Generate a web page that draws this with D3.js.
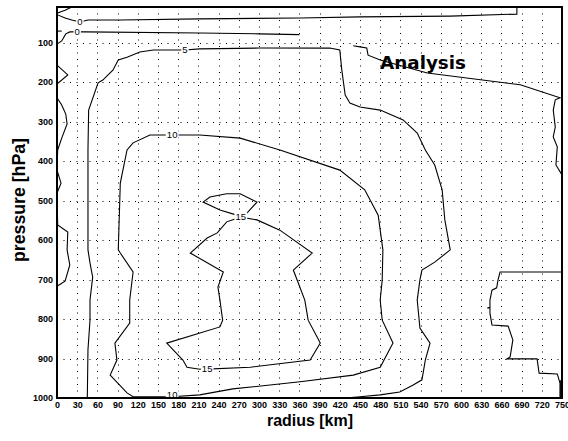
<!DOCTYPE html>
<html>
<head>
<meta charset="utf-8">
<script src="https://cdn.jsdelivr.net/npm/d3@7"></script>
<style>
  html, body { margin: 0; padding: 0; background: #fff; }
  svg { display: block; }
</style>
</head>
<body>
<svg id="chart" width="568" height="441"></svg>
<script>
// ---------- data (radius km, pressure hPa) ----------
const radiusTicks = [0,30,60,90,120,150,180,210,240,270,300,330,360,390,420,450,480,510,540,570,600,630,660,690,720,750];
const pressureTicks = [100,200,300,400,500,600,700,800,900,1000];
const radiusDomain = [0, 750];
const pressureDomain = [10, 1000];

// contour 0 (upper, with top-left corner)
const c0Upper = [[22,10],[12,18],[1,25],[0,28],[1,30],[12,38],[22,43],[34,48],[46,43],[94,43],[212,40],[361,38],[450,35],[584,33],[683,28],[683,10]];
// contour 0 (lower)
const c0Lower = [[0,104],[7,96],[13,78],[19,73],[30,73],[42,73],[212,76],[300,78],[360,80]];
const c0Dash = [[0,71],[7,71]];
// contour near r=0 (left border wiggle)
const c0Left = [[0,157],[16,182],[0,205],[0,240],[7,258],[13,281],[15,306],[7,342],[1,372],[0,423],[6,456],[0,481],[1,562],[16,580],[15,625],[19,663],[12,704],[0,717]];
// contour 5 (outer)
const c5Outer = [[45,1000],[46,878],[49,803],[49,752],[53,694],[49,658],[46,625],[46,456],[46,372],[47,271],[61,202],[68,195],[83,170],[91,144],[104,137],[123,124],[143,119],[190,119],[212,116],[301,114],[405,114],[420,119],[423,170],[428,233],[435,253],[450,263],[480,271],[514,296],[535,329],[547,372],[561,410],[572,473],[576,549],[584,625],[561,656],[542,676],[539,701],[535,752],[539,823],[554,861],[547,904],[542,954],[529,967],[509,985],[480,992],[450,997],[428,1000]];
// contour 5 (upper right branch)
const c5Right = [[440,108],[450,111],[460,114],[462,132],[480,144],[550,177],[688,207],[747,240],[740,245],[737,271],[740,314],[737,339],[743,364],[741,410],[750,435]];
// contour 10
const c10 = [[171,334],[212,334],[272,342],[331,372],[420,423],[457,473],[477,537],[484,625],[483,701],[480,752],[483,803],[499,861],[480,922],[440,942],[361,959],[306,969],[261,977],[212,992],[171,997],[113,997],[104,987],[79,942],[89,904],[86,861],[108,810],[108,752],[113,681],[94,633],[91,625],[94,456],[104,372],[113,354],[138,334],[171,334]];
// contour 15
const c15 = [[273,542],[282,532],[297,504],[272,483],[252,483],[227,491],[217,504],[242,524],[267,537],[273,542],[252,554],[238,582],[223,595],[198,633],[247,681],[239,719],[242,752],[246,803],[242,820],[163,861],[187,904],[193,922],[212,927],[223,927],[287,922],[376,904],[391,861],[373,803],[368,752],[351,676],[379,633],[331,575],[297,549],[273,542]];
// stepped contour near right edge
const cStep = [[750,681],[658,681],[655,701],[653,721],[646,727],[643,752],[643,770],[639,772],[643,772],[643,785],[646,815],[670,818],[677,853],[673,896],[668,901],[713,901],[716,937],[743,939],[747,962],[747,1000]];
const cEdge = [[748,955],[748,1000]];

const contourLines = [c0Upper, c0Lower, c0Dash, c0Left, c5Outer, c5Right, c10, c15, cStep, cEdge];
const contourLabels = [
  {r:34, p:48, t:"0"}, {r:30, p:73, t:"0"}, {r:190, p:119, t:"5"},
  {r:171, p:334, t:"10"}, {r:273, p:542, t:"15"}, {r:223, p:927, t:"15"}, {r:171, p:991, t:"10"}
];

// ---------- drawing ----------
const svg = d3.select("#chart");
const x = d3.scaleLinear().domain(radiusDomain).range([57, 562]);
const y = d3.scaleLinear().domain(pressureDomain).range([7, 398]);

svg.append("defs").append("clipPath").attr("id","plot")
  .append("rect").attr("x", x(0)).attr("y", y(10)).attr("width", x(750)-x(0)).attr("height", y(1000)-y(10));

// grid
const grid = svg.append("g").attr("stroke", "#000").attr("stroke-width", 1).attr("stroke-dasharray", "1,5.5");
grid.selectAll("line.v").data(radiusTicks.slice(1, -1)).join("line")
  .attr("x1", d => Math.round(x(d)) + 0.5).attr("x2", d => Math.round(x(d)) + 0.5)
  .attr("y1", y(10)).attr("y2", y(1000));
grid.selectAll("line.h").data(pressureTicks.slice(0, -1)).join("line")
  .attr("y1", d => Math.round(y(d)) + 0.5).attr("y2", d => Math.round(y(d)) + 0.5)
  .attr("x1", x(0)).attr("x2", x(750));

// contours
const line = d3.line().x(d => x(d[0])).y(d => y(d[1]));
const cg = svg.append("g").attr("clip-path", "url(#plot)");
cg.selectAll("path").data(contourLines).join("path")
  .attr("d", line).attr("fill", "none").attr("stroke", "#000").attr("stroke-width", 1.1);

// contour labels
const lg = svg.append("g").attr("clip-path", "url(#plot)")
  .attr("font-family", "Liberation Sans, Arial, sans-serif").attr("font-size", 9.5);
contourLabels.forEach(l => {
  const w = l.t.length * 5.4 + 2;
  lg.append("rect").attr("x", x(l.r) - w/2).attr("y", y(l.p) - 5).attr("width", w).attr("height", 10).attr("fill", "#fff");
  lg.append("text").attr("x", x(l.r)).attr("y", y(l.p)).attr("dy", "0.35em").attr("text-anchor", "middle").text(l.t);
});

// frame
svg.append("rect").attr("x", x(0)).attr("y", y(10)).attr("width", x(750)-x(0)).attr("height", y(1000)-y(10))
  .attr("fill", "none").attr("stroke", "#000").attr("stroke-width", 2);

// axes
const axFont = "Liberation Sans, Arial, sans-serif";
const xAxis = svg.append("g").attr("transform", `translate(0,${y(1000)})`)
  .call(d3.axisBottom(x).tickValues(radiusTicks).tickSize(0).tickPadding(4).tickFormat(d3.format("d")));
const yAxis = svg.append("g").attr("transform", `translate(${x(0)},0)`)
  .call(d3.axisLeft(y).tickValues(pressureTicks).tickSize(0).tickPadding(4).tickFormat(d3.format("d")));
[xAxis, yAxis].forEach(a => {
  a.select(".domain").remove();
  a.selectAll("text").attr("font-family", axFont).attr("font-size", 9).attr("font-weight", "bold").attr("fill", "#000");
});

// titles
svg.append("text").attr("x", 310).attr("y", 426).attr("text-anchor", "middle")
  .attr("font-family", axFont).attr("font-weight", "bold").attr("font-size", 17)
  .attr("textLength", 86).attr("lengthAdjust", "spacingAndGlyphs").text("radius [km]");
svg.append("text").attr("transform", "translate(25,200) rotate(-90)").attr("text-anchor", "middle")
  .attr("font-family", axFont).attr("font-weight", "bold").attr("font-size", 18)
  .attr("textLength", 124).attr("lengthAdjust", "spacingAndGlyphs").text("pressure [hPa]");
svg.append("text").attr("x", 380).attr("y", 69)
  .attr("font-family", "DejaVu Sans, sans-serif").attr("font-weight", "bold").attr("font-size", 18)
  .attr("textLength", 86).attr("lengthAdjust", "spacingAndGlyphs").text("Analysis");
</script>
</body>
</html>
